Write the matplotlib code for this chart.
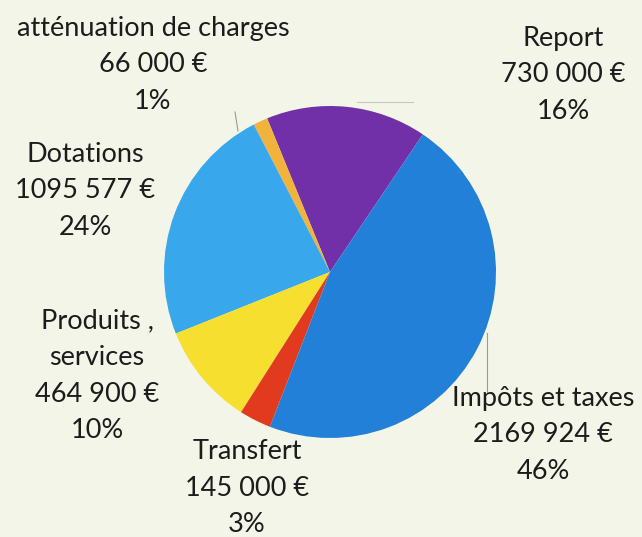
import matplotlib
matplotlib.use('Agg')
import matplotlib.pyplot as plt

# données
labels = ["Report", "atténuation de charges", "Dotations", "Produits ,\nservices", "Transfert", "Impôts et taxes"]
montants = [730000, 66000, 1095577, 464900, 145000, 2169924]
montants_txt = ["730 000 €", "66 000 €", "1095 577 €", "464 900 €", "145 000 €", "2169 924 €"]
pourcents = ["16%", "1%", "24%", "10%", "3%", "46%"]
couleurs = ["#7230a8", "#f2b33c", "#38a7ec", "#f6df2e", "#e23a1f", "#2280d8"]

W, H = 642, 537
fig = plt.figure(figsize=(W / 100, H / 100), dpi=100)
fig.patch.set_facecolor("#f3f5e8")
ax = fig.add_axes([0, 0, 1, 1])
ax.set_facecolor("#f3f5e8")

# camembert (coordonnées en pixels, y vers le haut)
ax.pie(montants, colors=couleurs, startangle=56, counterclock=True,
       center=(330, H - 272), radius=166,
       wedgeprops={"linewidth": 0})

# étiquettes
pos = [(563, 75), (153, 65), (85, 191), (97, 376), (247, 488), (543, 435)]
for lab, mt, pc, (x, y) in zip(labels, montants_txt, pourcents, pos):
    ax.text(x, H - y, lab + "\n" + mt + "\n" + pc, ha="center", va="center",
            fontsize=19.5, family="Lato", color="#1c1c1c", linespacing=1.58)

# lignes de rappel
ax.plot([235, 238], [H - 112, H - 131], color="#9a9a9a", lw=0.8)
ax.plot([357, 413], [H - 102, H - 102], color="#c8c8c8", lw=0.8)
ax.plot([487, 487], [H - 333, H - 392], color="#9a9a9a", lw=0.8)

ax.set_xlim(0, W)
ax.set_ylim(0, H)
ax.set_aspect("equal")
ax.axis("off")

plt.savefig("out.png", dpi=100, facecolor=fig.get_facecolor())
